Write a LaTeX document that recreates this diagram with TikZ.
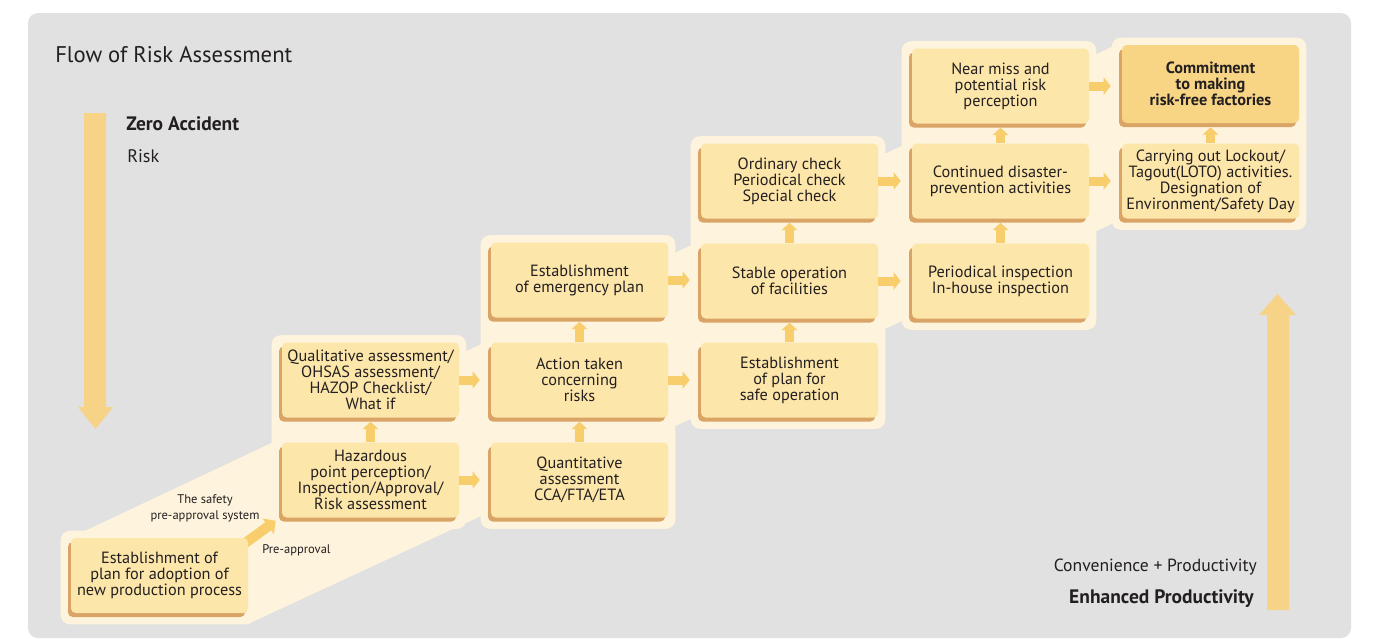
\documentclass[tikz,border=0pt]{standalone}
\usepackage{fontspec}
\setmainfont{PT Sans}
\usetikzlibrary{arrows.meta,calc,shadows}
\pgfdeclarelayer{bg}
\pgfdeclarelayer{mid}
\pgfsetlayers{bg,mid,main}
\definecolor{bggray}{HTML}{E1E1E1}
\definecolor{creamc}{HTML}{FEF3DC}
\definecolor{boxfill}{HTML}{FDE6AA}
\definecolor{commitfill}{HTML}{F8D585}
\definecolor{shadowc}{HTML}{D9A465}
\definecolor{arrowc}{HTML}{F8CE6C}
\definecolor{bigarrowc}{HTML}{F7D388}
\definecolor{textc}{HTML}{231F20}
\tikzset{
  stepbox/.style={fill=boxfill, rounded corners=3.5pt, minimum width=132.75pt,
    minimum height=56.25pt, inner sep=0pt, align=center, text=textc,
    font=\fontsize{12.2}{12}\selectfont,
    general shadow={fill=shadowc, shadow xshift=-2.25pt, shadow yshift=-3pt}},
  rarr/.style={draw=arrowc, line width=6.75pt, -{Triangle[width=12.75pt,length=5.25pt]}},
  uarr/.style={draw=arrowc, line width=6.75pt, -{Triangle[width=11.5pt,length=5.5pt]}},
  darr/.style={draw=arrowc, line width=7.5pt, -{Triangle[width=14pt,length=7pt]}},
  colbg/.style={fill=creamc, rounded corners=6.75pt},
  smalltext/.style={text=textc, inner sep=0pt, align=center, font=\fontsize{9.4}{12}\selectfont},
  plaintext/.style={text=textc, inner sep=0pt}
}
\begin{document}
\begin{tikzpicture}[x=0.75pt,y=-0.75pt]
\useasboundingbox (0,0) rectangle (1382,639);

% boxes
\node[stepbox] (b0) at (159.5,575.5) {Establishment of\\plan for adoption of\\new production process};
\node[stepbox] (haz) at (370.5,480) {Hazardous\\point perception/\\Inspection/Approval/\\Risk assessment};
\node[stepbox] (qual) at (370.5,380) {Qualitative assessment/\\OHSAS assessment/\\HAZOP Checklist/\\What if};
\node[stepbox] (quant) at (579.5,480) {Quantitative\\assessment\\CCA/FTA/ETA};
\node[stepbox] (act) at (579.5,380) {Action taken\\concerning\\risks};
\node[stepbox] (emer) at (579.5,280) {Establishment\\of emergency plan};
\node[stepbox] (safe) at (789.5,380) {Establishment\\of plan for\\safe operation};
\node[stepbox] (stab) at (789.5,281) {Stable operation\\of facilities};
\node[stepbox] (ord) at (789.5,181) {Ordinary check\\Periodical check\\Special check};
\node[stepbox] (peri) at (1000.5,281) {Periodical inspection\\In-house inspection};
\node[stepbox] (cont) at (1000.5,181) {Continued disaster-\\prevention activities};
\node[stepbox] (near) at (1000.5,86) {Near miss and\\potential risk\\perception};
\node[stepbox] (carry) at (1210.5,181) {Carrying out Lockout/\\Tagout(LOTO) activities.\\Designation of\\Environment/Safety Day};
\node[stepbox, fill=commitfill, minimum height=58.5pt, font=\bfseries\fontsize{12.2}{12}\selectfont] (commit) at (1210.5,84) {Commitment\\to making\\risk-free factories};

% background layers
\begin{pgfonlayer}{bg}
  \fill[bggray, rounded corners=7.5pt] (28,13) rectangle (1351,638);
  \fill[creamc] (72,537) -- (1118,44) -- (1118,221) -- (250,623) -- (72,623) -- cycle;
  \fill[colbg] ($(b0.north west)+(-10,-7)$) rectangle ($(b0.south east)+(7,11)$);
  \fill[colbg] ($(qual.north west)+(-10,-7)$) rectangle ($(haz.south east)+(7,11)$);
  \fill[colbg] ($(emer.north west)+(-10,-7)$) rectangle ($(quant.south east)+(7,11)$);
  \fill[colbg] ($(ord.north west)+(-10,-7)$) rectangle ($(safe.south east)+(7,11)$);
  \fill[colbg] ($(near.north west)+(-10,-7)$) rectangle ($(peri.south east)+(7,11)$);
  \fill[colbg] ($(commit.north west)+(-10,-7)$) rectangle ($(carry.south east)+(7,11)$);
  % big arrows
  \fill[bigarrowc] (84,113) -- (106,113) -- (106,407) -- (113,407) -- (95.5,429) -- (78,407) -- (84,407) -- cycle;
  \fill[bigarrowc] (1267,610) -- (1289,610) -- (1289,315) -- (1296,315) -- (1277.5,294) -- (1259,315) -- (1267,315) -- cycle;
\end{pgfonlayer}
\begin{pgfonlayer}{mid}
  \draw[darr] ($(b0.north east)+(-4,6)$) -- ($(haz.south west)+(-6,3)$);
\end{pgfonlayer}

% right arrows
\draw[rarr] (haz.east) -- ($(haz.east -| quant.west)+(-11,0)$);
\draw[rarr] (qual.east) -- ($(qual.east -| act.west)+(-11,0)$);
\draw[rarr] (act.east) -- ($(act.east -| safe.west)+(-11,0)$);
\draw[rarr] (emer.east) -- ($(emer.east -| stab.west)+(-11,0)$);
\draw[rarr] (stab.east) -- ($(stab.east -| peri.west)+(-11,0)$);
\draw[rarr] (ord.east) -- ($(ord.east -| cont.west)+(-11,0)$);
\draw[rarr] (cont.east) -- ($(cont.east -| carry.west)+(-11,0)$);
\draw[rarr] (near.east) -- ($(near.east -| commit.west)+(-11,0)$);

% up arrows
\draw[uarr] (haz.north) -- ($(haz.north |- qual.south)+(0,4)$);
\draw[uarr] (quant.north) -- ($(quant.north |- act.south)+(0,4)$);
\draw[uarr] (act.north) -- ($(act.north |- emer.south)+(0,4)$);
\draw[uarr] (safe.north) -- ($(safe.north |- stab.south)+(0,4)$);
\draw[uarr] (stab.north) -- ($(stab.north |- ord.south)+(0,4)$);
\draw[uarr] (peri.north) -- ($(peri.north |- cont.south)+(0,4)$);
\draw[uarr] (cont.north) -- ($(cont.north |- near.south)+(0,4)$);
\draw[uarr] (carry.north) -- ($(carry.north |- commit.south)+(0,4)$);

% labels
\node[smalltext] (safety) at (205,508) {The safety\\pre-approval system};
\node[smalltext] (preap) at (296.5,550) {Pre-approval};

\node[plaintext, anchor=west, font=\fontsize{17}{20}\selectfont] (title) at (55,55) {Flow of Risk Assessment};
\node[plaintext, anchor=west, font=\bfseries\fontsize{14.6}{17}\selectfont] (zero) at (126,124) {Zero Accident};
\node[plaintext, anchor=west, font=\fontsize{13.6}{16}\selectfont] (risk) at (127,156) {Risk};
\node[plaintext, anchor=east, font=\fontsize{13.2}{16}\selectfont] (conv) at (1257,567) {Convenience + Productivity};
\node[plaintext, anchor=east, font=\bfseries\fontsize{14.6}{17}\selectfont] (enh) at (1254,599) {Enhanced Productivity};
\end{tikzpicture}
\end{document}
